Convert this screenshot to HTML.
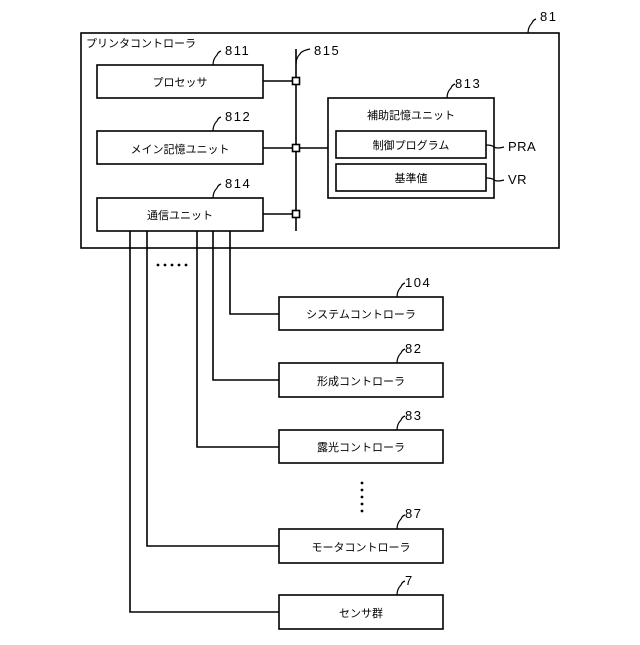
<!DOCTYPE html>
<html><head><meta charset="utf-8"><style>body{margin:0;background:#fff}</style></head><body>
<svg width="640" height="640" viewBox="0 0 640 640" xmlns="http://www.w3.org/2000/svg" font-family="Liberation Sans, Noto Sans CJK JP, sans-serif" fill="none" stroke="#000" stroke-width="1.6">
<rect x="81" y="33" width="478" height="215"/>
<rect x="97" y="65" width="166" height="33"/>
<rect x="97" y="131" width="166" height="33"/>
<rect x="97" y="198" width="166" height="33"/>
<rect x="328" y="98" width="166" height="100"/>
<rect x="336" y="131" width="150" height="27"/>
<rect x="336" y="164" width="150" height="27"/>
<line x1="296" y1="49" x2="296" y2="231"/>
<line x1="263" y1="81" x2="296" y2="81"/>
<line x1="263" y1="148" x2="328" y2="148"/>
<line x1="263" y1="214" x2="296" y2="214"/>
<rect x="292.5" y="77.5" width="7" height="7" fill="#fff"/>
<rect x="292.5" y="144.5" width="7" height="7" fill="#fff"/>
<rect x="292.5" y="210.5" width="7" height="7" fill="#fff"/>
<g>
<rect x="279" y="297" width="164" height="33"/>
<rect x="279" y="363" width="164" height="34"/>
<rect x="279" y="430" width="164" height="33"/>
<rect x="279" y="529" width="164" height="34"/>
<rect x="279" y="595" width="164" height="34"/>
<polyline points="230,231 230,314 279,314"/>
<polyline points="213,231 213,380 279,380"/>
<polyline points="197,231 197,447 279,447"/>
<polyline points="147,231 147,546 279,546"/>
<polyline points="130,231 130,612 279,612"/>
</g>
<g stroke-width="1.2">
<path d="M213,65 q0,-6 4,-10 q1,-3 4,-4"/>
<path d="M213,131 q0,-6 4,-10 q1,-3 4,-4"/>
<path d="M213,198 q0,-6 4,-10 q1,-3 4,-4"/>
<path d="M296,64 q0,-6 4,-10 q1,-3 10,-5"/>
<path d="M447,98 q0,-6 4,-10 q1,-3 4,-4"/>
<path d="M528,33 q0,-6 4,-10 q1,-3 4,-4"/>
<path d="M486,145 q6,0 8,2 q3,2 10,0"/>
<path d="M486,178 q6,0 8,2 q3,2 10,0"/>
<path d="M397,297 q0,-6 4,-10 q1,-3 4,-4"/>
<path d="M397,363 q0,-6 4,-10 q1,-3 4,-4"/>
<path d="M397,430 q0,-6 4,-10 q1,-3 4,-4"/>
<path d="M397,529 q0,-6 4,-10 q1,-3 4,-4"/>
<path d="M397,595 q0,-6 4,-10 q1,-3 4,-4"/>
</g>
<g fill="#000" stroke="none">
<circle cx="158" cy="265" r="1.4"/><circle cx="165" cy="265" r="1.4"/><circle cx="172" cy="265" r="1.4"/><circle cx="179" cy="265" r="1.4"/><circle cx="186" cy="265" r="1.4"/>
<circle cx="362" cy="483" r="1.4"/><circle cx="362" cy="490" r="1.4"/><circle cx="362" cy="497" r="1.4"/><circle cx="362" cy="504" r="1.4"/><circle cx="362" cy="511" r="1.4"/>
</g>
<g fill="#000" stroke="none" font-size="11" text-anchor="middle">
<text x="180" y="86">プロセッサ</text>
<text x="180" y="153">メイン記憶ユニット</text>
<text x="180" y="219">通信ユニット</text>
<text x="411" y="119">補助記憶ユニット</text>
<text x="411" y="149">制御プログラム</text>
<text x="411" y="182">基準値</text>
<text x="361" y="318">システムコントローラ</text>
<text x="361" y="385">形成コントローラ</text>
<text x="361" y="451">露光コントローラ</text>
<text x="361" y="551">モータコントローラ</text>
<text x="361" y="617">センサ群</text>
<text x="86" y="47" text-anchor="start">プリンタコントローラ</text>
</g>
<g fill="#000" stroke="none" font-size="13" text-anchor="start" letter-spacing="1.5">
<text x="225" y="55">811</text>
<text x="225" y="121">812</text>
<text x="225" y="188">814</text>
<text x="314" y="55">815</text>
<text x="455" y="88">813</text>
<text x="540" y="21">81</text>
<text x="508" y="151" letter-spacing="0.5">PRA</text>
<text x="508" y="184" letter-spacing="0.5">VR</text>
<text x="405" y="287">104</text>
<text x="405" y="353">82</text>
<text x="405" y="420">83</text>
<text x="405" y="518">87</text>
<text x="405" y="585">7</text>
</g>
</svg>
</body></html>
